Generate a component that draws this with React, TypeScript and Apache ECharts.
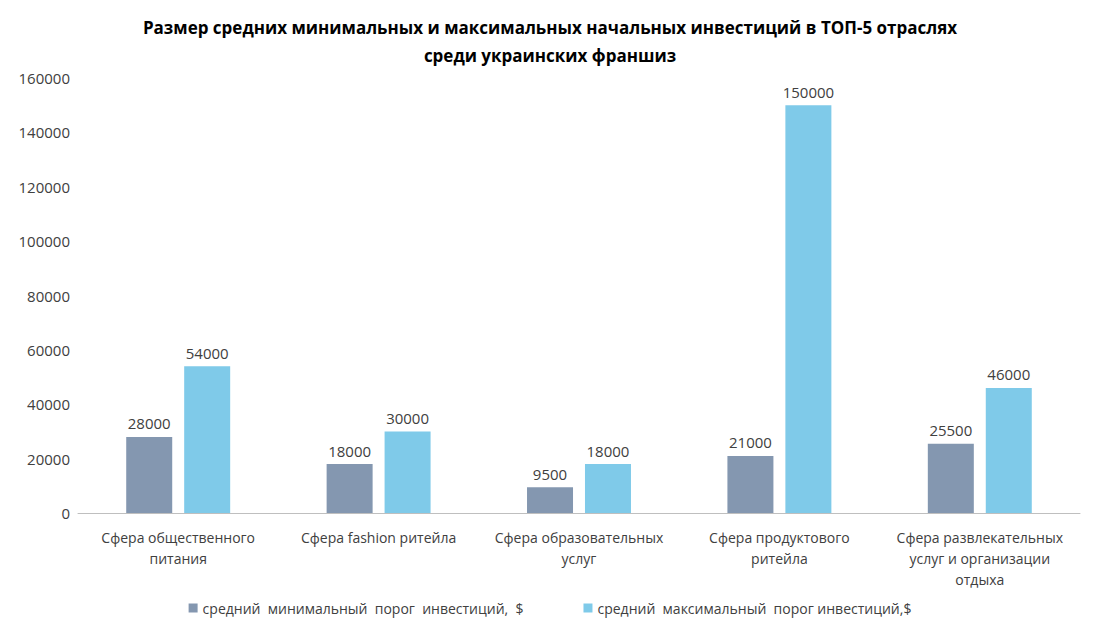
import { useEffect, useRef } from "react";
import * as echarts from "echarts";

const categories = [
  "Сфера общественного\nпитания",
  "Сфера fashion ритейла",
  "Сфера образовательных\nуслуг",
  "Сфера продуктового\nритейла",
  "Сфера развлекательных\nуслуг и организации\nотдыха",
];
const minValues = [28000, 18000, 9500, 21000, 25500];
const maxValues = [54000, 30000, 18000, 150000, 46000];
const minName = "средний  минимальный  порог  инвестиций,  $";
const maxName = "средний  максимальный  порог инвестиций,$";

const font = "'Open Sans', 'Liberation Sans', sans-serif";

export default function App() {
  const chartRef = useRef<HTMLDivElement>(null);

  useEffect(() => {
    if (!chartRef.current) return;
    const chart = echarts.init(chartRef.current, null, { renderer: "svg" });

    const label = {
      show: true,
      position: "top" as const,
      color: "#404040",
      fontSize: 15,
      fontFamily: font,
      distance: 6,
    };

    chart.setOption({
      animation: false,
      textStyle: { fontFamily: font },
      title: {
        text: "Размер средних минимальных и максимальных начальных инвестиций в ТОП-5 отраслях\nсреди украинских франшиз",
        left: "center",
        top: 0,
        textStyle: {
          fontSize: 17,
          fontWeight: "bold",
          color: "#000",
          lineHeight: 28,
          fontFamily: font,
        },
      },
      legend: {
        bottom: 4,
        left: "center",
        itemWidth: 9,
        itemHeight: 9,
        itemGap: 60,
        icon: "rect",
        textStyle: { fontSize: 14, color: "#404040", fontFamily: font },
        data: [minName, maxName],
      },
      grid: { left: 70, right: 12, top: 70, bottom: 111 },
      xAxis: {
        type: "category",
        data: categories,
        axisTick: { show: false },
        axisLine: { lineStyle: { color: "#bfbfbf" } },
        axisLabel: {
          color: "#404040",
          fontSize: 14,
          lineHeight: 21,
          margin: 14,
          interval: 0,
          fontFamily: font,
        },
      },
      yAxis: {
        type: "value",
        min: 0,
        max: 160000,
        interval: 20000,
        splitLine: { show: false },
        axisLine: { show: false },
        axisTick: { show: false },
        axisLabel: {
          color: "#404040",
          fontSize: 15,
          margin: 8,
          fontFamily: font,
          formatter: (v: number) => String(v),
        },
      },
      series: [
        {
          name: minName,
          type: "bar",
          data: minValues,
          barWidth: 46,
          barGap: "26%",
          itemStyle: { color: "#8497B0" },
          label,
        },
        {
          name: maxName,
          type: "bar",
          data: maxValues,
          barWidth: 46,
          itemStyle: { color: "#7FCAE9" },
          label,
        },
      ],
    });

    return () => chart.dispose();
  }, []);

  return <div ref={chartRef} style={{ width: 1084, height: 616 }} />;
}
